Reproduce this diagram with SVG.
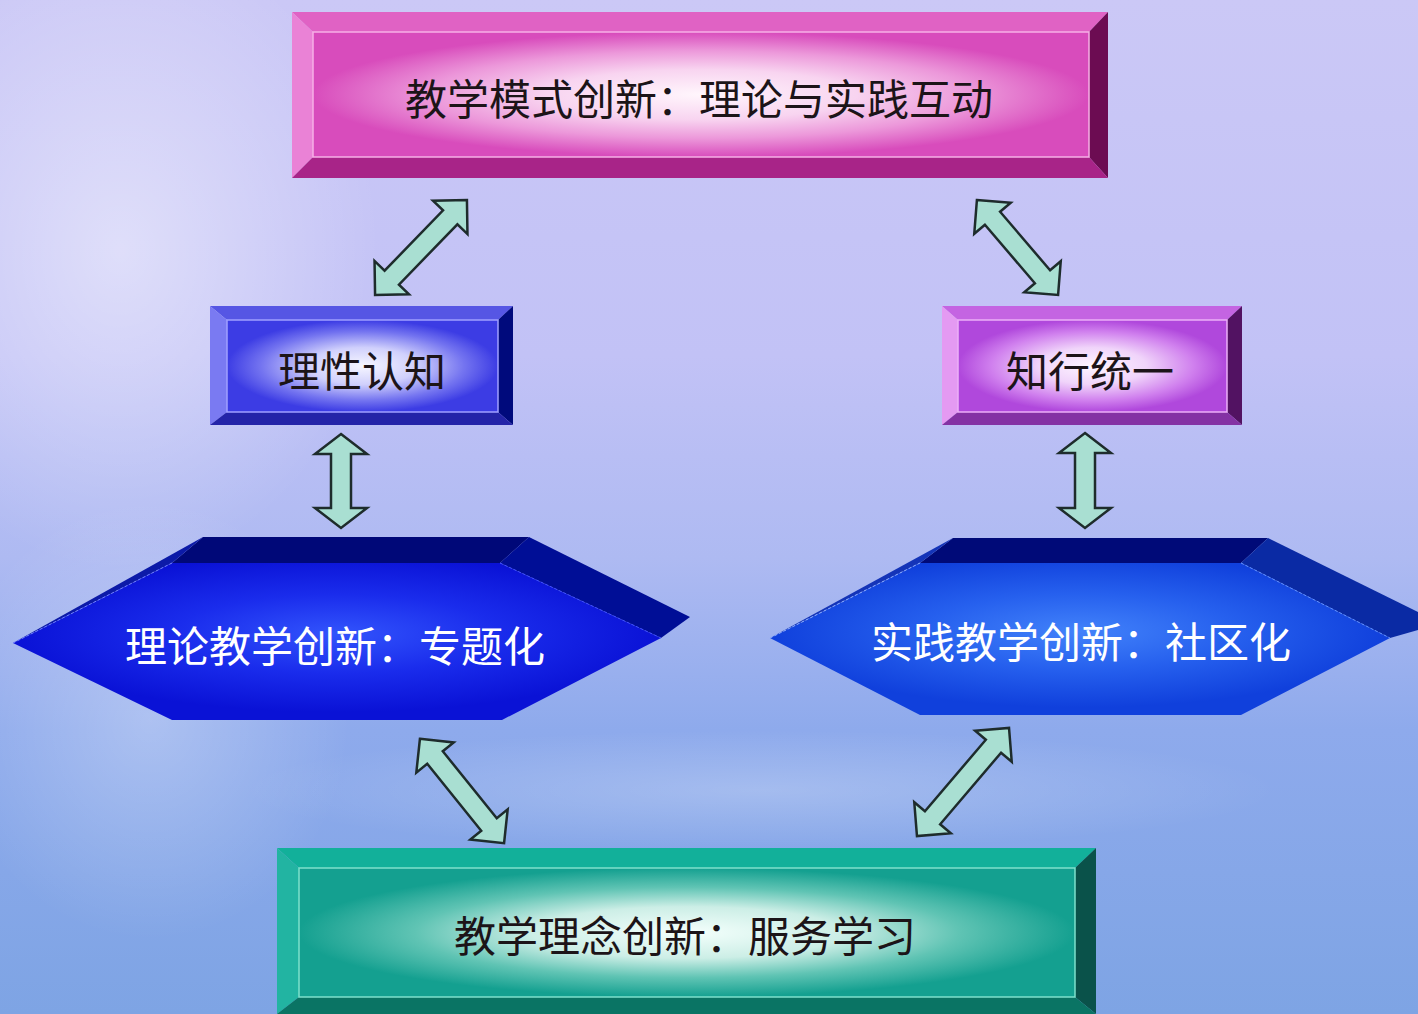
<svg xmlns="http://www.w3.org/2000/svg" width="1418" height="1014" viewBox="0 0 1418 1014">
<defs>
<style>
.txt{font-family:"Noto Sans CJK SC","Noto Sans CJK TC",sans-serif;font-size:42px;text-anchor:middle;dominant-baseline:central}
.dark{fill:#1c1418}
.light{fill:#ffffff}
.arrow{fill:#a9dfd2;stroke:#1e2c2c;stroke-width:2.5;stroke-linejoin:miter}
</style>
<linearGradient id="bg" x1="0" y1="0" x2="0" y2="1">
<stop offset="0" stop-color="#cbc8f6"/>
<stop offset="0.35" stop-color="#c2c2f6"/>
<stop offset="0.55" stop-color="#aebaf2"/>
<stop offset="0.72" stop-color="#8eaaec"/>
<stop offset="1" stop-color="#7ea4e4"/>
</linearGradient>
<radialGradient id="haze" cx="0.5" cy="0.5" r="0.5">
<stop offset="0" stop-color="#ffffff" stop-opacity="0.45"/>
<stop offset="1" stop-color="#ffffff" stop-opacity="0"/>
</radialGradient>
<radialGradient id="gPink" cx="0.5" cy="0.5" r="0.5">
<stop offset="0" stop-color="#fff6fc"/>
<stop offset="0.4" stop-color="#f8d4f0"/>
<stop offset="0.7" stop-color="#ec98da"/>
<stop offset="1" stop-color="#d84cbc"/>
</radialGradient>
<radialGradient id="gBlue" cx="0.5" cy="0.5" r="0.5">
<stop offset="0" stop-color="#f6f6ff"/>
<stop offset="0.4" stop-color="#d0d0fc"/>
<stop offset="0.75" stop-color="#7474f0"/>
<stop offset="1" stop-color="#3c3ce4"/>
</radialGradient>
<radialGradient id="gPurple" cx="0.5" cy="0.5" r="0.5">
<stop offset="0" stop-color="#fef6ff"/>
<stop offset="0.4" stop-color="#f0d4fa"/>
<stop offset="0.75" stop-color="#d080ee"/>
<stop offset="1" stop-color="#b048dc"/>
</radialGradient>
<radialGradient id="gTeal" cx="0.5" cy="0.5" r="0.5">
<stop offset="0" stop-color="#f4fffc"/>
<stop offset="0.4" stop-color="#cceee6"/>
<stop offset="0.7" stop-color="#60c4b4"/>
<stop offset="1" stop-color="#14a090"/>
</radialGradient>
<radialGradient id="gHexL" cx="0.5" cy="0.45" r="0.5">
<stop offset="0" stop-color="#3254fc"/>
<stop offset="0.5" stop-color="#1a2cec"/>
<stop offset="1" stop-color="#0a12d6"/>
</radialGradient>
<radialGradient id="gHexR" cx="0.5" cy="0.45" r="0.5">
<stop offset="0" stop-color="#4282fa"/>
<stop offset="0.5" stop-color="#2660ee"/>
<stop offset="1" stop-color="#1040dc"/>
</radialGradient>
</defs>

<g id="background">
<rect x="0" y="0" width="1418" height="1014" fill="url(#bg)"/>
<ellipse cx="120" cy="250" rx="260" ry="320" fill="url(#haze)"/>
<ellipse cx="150" cy="720" rx="200" ry="220" fill="url(#haze)" opacity="0.6"/>
<ellipse cx="760" cy="790" rx="520" ry="60" fill="url(#haze)" opacity="0.5"/>
</g>

<g id="connectors">
<polygon class="arrow" transform="translate(421 247.5) rotate(-45.9)" points="-66,0 -42,-24 -42,-10 42,-10 42,-24 66,0 42,24 42,10 -42,10 -42,24"/>
<polygon class="arrow" transform="translate(1017.5 247.5) rotate(49.5)" points="-62.5,0 -38.5,-24 -38.5,-10 38.5,-10 38.5,-24 62.5,0 38.5,24 38.5,10 -38.5,10 -38.5,24"/>
<polygon class="arrow" transform="translate(341 481) rotate(90)" points="-47,0 -27,-26 -27,-10 27,-10 27,-26 47,0 27,26 27,10 -27,10 -27,26"/>
<polygon class="arrow" transform="translate(1085 480.5) rotate(90)" points="-47.5,0 -27.5,-26 -27.5,-10 27.5,-10 27.5,-26 47.5,0 27.5,26 27.5,10 -27.5,10 -27.5,26"/>
<polygon class="arrow" transform="translate(462 791) rotate(51.1)" points="-67,0 -43,-24 -43,-10 43,-10 43,-24 67,0 43,24 43,10 -43,10 -43,24"/>
<polygon class="arrow" transform="translate(963 782) rotate(-49.6)" points="-71,0 -47,-24 -47,-10 47,-10 47,-24 71,0 47,24 47,10 -47,10 -47,24"/>
</g>

<g id="node-top">
<polygon points="292,12 1108,12 1089,32 313,32" fill="#e062c4"/>
<polygon points="292,12 313,32 313,157 292,178" fill="#ea82d6"/>
<polygon points="1108,12 1108,178 1089,157 1089,32" fill="#6c0c52"/>
<polygon points="292,178 313,157 1089,157 1108,178" fill="#a82488"/>
<rect x="313" y="32" width="776" height="125" fill="url(#gPink)"/>
<rect x="313" y="32" width="776" height="125" fill="none" stroke="#f6b0e6" stroke-width="1.5"/>
<text class="txt dark" x="699" y="96">教学模式创新：理论与实践互动</text>
</g>

<g id="node-rational">
<polygon points="210,306 513,306 498,320 227,320" fill="#5656e4"/>
<polygon points="210,306 227,320 227,412 210,425" fill="#7a7af2"/>
<polygon points="513,306 513,425 498,412 498,320" fill="#000a7c"/>
<polygon points="210,425 227,412 498,412 513,425" fill="#2424a8"/>
<rect x="227" y="320" width="271" height="92" fill="url(#gBlue)"/>
<rect x="227" y="320" width="271" height="92" fill="none" stroke="#a0a0ff" stroke-width="1.5"/>
<text class="txt dark" x="362" y="368">理性认知</text>
</g>

<g id="node-unity">
<polygon points="942,306 1242,306 1227,320 958,320" fill="#c464e2"/>
<polygon points="942,306 958,320 958,412 942,425" fill="#e49af2"/>
<polygon points="1242,306 1242,425 1227,412 1227,320" fill="#521262"/>
<polygon points="942,425 958,412 1227,412 1242,425" fill="#8432a4"/>
<rect x="958" y="320" width="269" height="92" fill="url(#gPurple)"/>
<rect x="958" y="320" width="269" height="92" fill="none" stroke="#ecb0f8" stroke-width="1.5"/>
<text class="txt dark" x="1090" y="368">知行统一</text>
</g>

<g id="node-theory">
<polygon points="203,537 529,537 500,563 172,563" fill="#000878"/>
<polygon points="529,537 690,617 661,638 500,563" fill="#000e96"/>
<polygon points="13,643 203,537 172,563" fill="#0c1aa8"/>
<polygon points="13,643 172,563 500,563 661,638 502,720 172,720" fill="url(#gHexL)"/>
<line x1="13" y1="643" x2="172" y2="563" stroke="#7080ff" stroke-width="1" stroke-dasharray="3 2"/>
<line x1="500" y1="563" x2="661" y2="638" stroke="#4050ff" stroke-width="1" stroke-dasharray="3 2"/>
<text class="txt light" x="335" y="643">理论教学创新：专题化</text>
</g>

<g id="node-practice">
<polygon points="953,538 1268,538 1241,563 920,563" fill="#000a78"/>
<polygon points="1268,538 1418,612 1418,630 1390,638 1241,563" fill="#0a2aa4"/>
<polygon points="770,638 953,538 920,563" fill="#1434b8"/>
<polygon points="770,638 920,563 1241,563 1390,638 1241,715 920,715" fill="url(#gHexR)"/>
<line x1="770" y1="638" x2="920" y2="563" stroke="#90b0ff" stroke-width="1" stroke-dasharray="3 2"/>
<line x1="1241" y1="563" x2="1390" y2="638" stroke="#6090ff" stroke-width="1" stroke-dasharray="3 2"/>
<text class="txt light" x="1081" y="639">实践教学创新：社区化</text>
</g>

<g id="node-service">
<polygon points="277,848 1096,848 1075,868 299,868" fill="#12b09a"/>
<polygon points="277,848 299,868 299,997 277,1014" fill="#22b4a2"/>
<polygon points="1096,848 1096,1014 1075,997 1075,868" fill="#0a524a"/>
<polygon points="277,1014 299,997 1075,997 1096,1014" fill="#0a7464"/>
<rect x="299" y="868" width="776" height="129" fill="url(#gTeal)"/>
<rect x="299" y="868" width="776" height="129" fill="none" stroke="#7ee0cc" stroke-width="1.5"/>
<text class="txt dark" x="685" y="933">教学理念创新：服务学习</text>
</g>
</svg>
